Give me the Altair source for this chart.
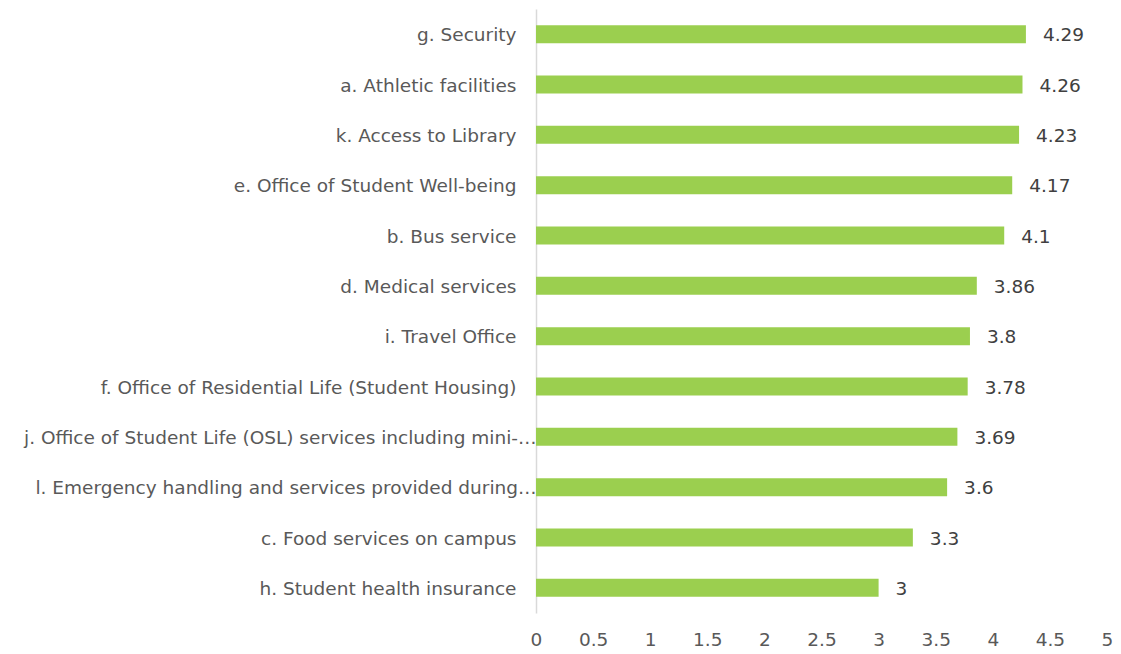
import altair as alt
import pandas as pd

categories = [
    "g. Security",
    "a. Athletic facilities",
    "k.  Access to Library",
    "e. Office of Student Well-being",
    "b. Bus service",
    "d. Medical services",
    "i. Travel Office",
    "f. Office of Residential Life (Student Housing)",
    "j. Office of Student Life (OSL) services including mini-…",
    "l. Emergency handling and services provided during…",
    "c. Food services on campus",
    "h. Student health insurance",
]
values = [4.29, 4.26, 4.23, 4.17, 4.1, 3.86, 3.8, 3.78, 3.69, 3.6, 3.3, 3.0]
value_labels = ["4.29", "4.26", "4.23", "4.17", "4.1", "3.86", "3.8", "3.78", "3.69", "3.6", "3.3", "3"]
x_ticks = [0, 0.5, 1, 1.5, 2, 2.5, 3, 3.5, 4, 4.5, 5]

df = pd.DataFrame({"cat": categories, "val": values, "lab": value_labels})

FONT = "DejaVu Sans"

y_enc = alt.Y(
    "cat:N",
    sort=categories,
    title=None,
    scale=alt.Scale(paddingInner=0.64, paddingOuter=0.32),
    axis=alt.Axis(
        domainColor="#d9d9d9",
        domainWidth=1.5,
        ticks=False,
        labelPadding={"expr": "indexof(datum.label, '…') >= 0 ? 0 : 20"},
        labelFont=FONT,
        labelFontSize=18.5,
        labelColor="#595959",
        labelLimit=600,
        labelOffset=1,
        grid=False,
    ),
)
x_enc = alt.X(
    "val:Q",
    title=None,
    scale=alt.Scale(domain=[0, 5], nice=False),
    axis=alt.Axis(
        values=x_ticks,
        format="~g",
        domain=False,
        ticks=False,
        grid=False,
        labelPadding=17,
        labelFont=FONT,
        labelFontSize=18.5,
        labelColor="#595959",
        labelFlush=False,
    ),
)

bars = alt.Chart(df).mark_bar(color="#9BCF4F", size=18).encode(x=x_enc, y=y_enc)
text = alt.Chart(df).mark_text(
    align="left", baseline="middle", dx=17, dy=1, font=FONT, fontSize=18.5, color="#404040"
).encode(x=alt.X("val:Q"), y=alt.Y("cat:N", sort=categories), text="lab:N")

chart = (
    alt.layer(bars, text)
    .properties(
        width=571,
        height=604,
        background="white",
        autosize=alt.AutoSizeParams(type="none"),
        padding={"left": 528, "top": 1, "right": 6, "bottom": 38},
    )
    .configure_view(strokeWidth=0, stroke=None)
)

chart.save("out.html", embed_options={"renderer": "svg", "actions": False})
